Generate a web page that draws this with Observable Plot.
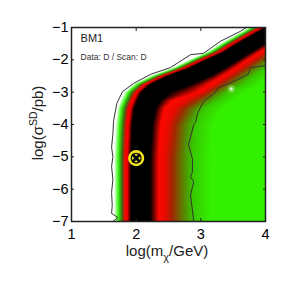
<!DOCTYPE html>
<html><head><meta charset="utf-8">
<script src="https://cdn.jsdelivr.net/npm/d3@7"></script>
<script src="https://cdn.jsdelivr.net/npm/@observablehq/plot@0.6"></script>
<style>html,body{margin:0;background:#fff}svg{display:block}</style>
</head><body><div id="c"></div>
<script>
const xTicks=[1,2,3,4];
const yTicks=[-1,-2,-3,-4,-5,-6,-7];
const rowY=[-7,-5,-4,-3.5,-3.25,-3,-2.75,-2.5,-2.25,-2,-1.75,-1.5,-1.25,-1,-0.75,-0.5,-0.25];
// x position (log m) of each colour level along every row of rowY
const band0=[1.66,1.66,1.68,1.71,1.76,1.82,1.96,2.22,2.56,2.82,3.10,3.30,3.52,3.74,3.98,4.26,4.54];
const band1=[1.72,1.72,1.74,1.77,1.82,1.88,2.02,2.28,2.62,2.88,3.16,3.36,3.58,3.80,4.04,4.32,4.60];
const band2=[1.78,1.78,1.80,1.83,1.88,1.94,2.08,2.34,2.68,2.94,3.22,3.42,3.64,3.86,4.10,4.38,4.66];
const band3=[1.83,1.83,1.85,1.88,1.93,1.99,2.13,2.39,2.73,2.99,3.27,3.47,3.69,3.91,4.15,4.43,4.71];
const band4=[1.86,1.86,1.88,1.91,1.96,2.02,2.16,2.42,2.76,3.02,3.30,3.50,3.72,3.94,4.18,4.46,4.74];
const band5=[1.92,1.92,1.94,1.97,2.02,2.08,2.22,2.48,2.82,3.08,3.36,3.56,3.78,4.00,4.24,4.52,4.80];
const band6=[2.22,2.22,2.25,2.30,2.38,2.53,2.87,3.15,3.37,3.58,3.78,4.00,4.20,4.40,4.60,4.80,5.00];
const band7=[2.35,2.35,2.38,2.44,2.56,2.95,3.13,3.34,3.54,3.72,3.92,4.12,4.31,4.51,4.70,4.90,5.08];
const band8=[2.45,2.45,2.50,2.61,2.78,3.04,3.23,3.43,3.61,3.80,4.00,4.19,4.37,4.56,4.76,4.94,5.13];
const band9=[2.56,2.56,2.61,2.73,2.93,3.13,3.32,3.52,3.71,3.89,4.09,4.28,4.46,4.65,4.85,5.04,5.22];
const band10=[2.73,2.72,2.76,2.90,3.09,3.27,3.49,3.66,3.85,4.03,4.23,4.43,4.63,4.85,5.07,5.28,5.50];
const band11=[2.88,2.87,2.91,3.05,3.25,3.43,3.65,3.82,4.00,4.19,4.39,4.58,4.79,5.00,5.22,5.44,5.65];
const band12=[3.16,3.15,3.19,3.33,3.52,3.70,3.92,4.09,4.28,4.46,4.66,4.86,5.06,5.28,5.50,5.71,5.93];
const levelColors=["#ffffff","#38ff10","#3c6a10","#f80000","#ff0000","#000000","#000000","#ff0800","#e80a00","#a02800","#5a8200","#38c800","#33f000"];
// outer and inner contours
const outerX=[3.70,3.61,3.30,3.04,2.84,2.53,2.22,1.96,1.79,1.70,1.65,1.64,1.62,1.64,1.62,1.64,1.62,1.63,1.62,1.72,1.64];
const outerY=[-1.0,-1.12,-1.43,-1.80,-1.84,-2.24,-2.45,-2.73,-2.98,-3.35,-3.9,-4.3,-4.7,-5.0,-5.3,-5.7,-6.1,-6.5,-6.75,-6.88,-7];
const innerX=[4.0,3.77,3.73,3.57,3.28,3.19,3.04,2.95,2.92,2.89,2.81,2.87,2.87,2.84,2.89,2.84,2.87,2.89];
const innerY=[-2.18,-2.24,-2.45,-2.61,-2.86,-3.07,-3.29,-3.66,-3.92,-4.0,-4.63,-5.06,-5.46,-5.62,-5.77,-6.18,-6.65,-7];
const bestX=[2.0], bestY=[-5.04];
const spotX=[3.47], spotY=[-2.9];

const bands=[band0,band1,band2,band3,band4,band5,band6,band7,band8,band9,band10,band11,band12];
const levels=d3.range(bands.length);
const field=(x,y)=>{
  const xs=bands.map(b=>d3.scaleLinear(rowY,b)(y));
  if(x<=xs[0])return 0;
  if(x>=xs[xs.length-1])return levels[levels.length-1];
  return d3.scaleLinear(xs,levels)(x);
};
const FONT="'Liberation Sans',Arial,sans-serif";
const fmt=d=>String(d).replace("-","\u2212");
function labelMark(){
  const g=d3.create("svg:g").attr("font-family",FONT).attr("font-size",15).attr("fill","#222");
  const xl=g.append("text").attr("x",167).attr("y",256).attr("text-anchor","middle");
  xl.append("tspan").text("log(m");
  xl.append("tspan").attr("font-size",11).attr("dy",5).text("χ");
  xl.append("tspan").attr("dy",-5).text("/GeV)");
  const yl=g.append("text").attr("transform","translate(43,123) rotate(-90)").attr("text-anchor","middle");
  yl.append("tspan").text("log(σ");
  yl.append("tspan").attr("font-size",10.5).attr("dy",-6).text("SD");
  yl.append("tspan").attr("dy",6).text("/pb)");
  return g.node();
}
const plot=Plot.plot({
  width:291,height:291,
  marginLeft:71,marginRight:26,marginTop:27,marginBottom:70,
  style:{background:"#fff",fontFamily:FONT,overflow:"visible"},
  x:{domain:[1,4]},
  y:{domain:[-7,-1]},
  color:{type:"linear",domain:levels,range:levelColors,interpolate:"rgb"},
  marks:[
    Plot.raster({fill:field,x1:1,x2:4,y1:-7,y2:-1,pixelSize:1}),
    Plot.dot(d3.range(spotX.length),{x:i=>spotX[i],y:i=>spotY[i],r:4,fill:"#a8ff90",fillOpacity:0.35}),
    Plot.dot(d3.range(spotX.length),{x:i=>spotX[i],y:i=>spotY[i],r:1.6,fill:"#e8ffe0",fillOpacity:0.9}),
    Plot.line(d3.range(outerX.length),{x:i=>outerX[i],y:i=>outerY[i],stroke:"#333",strokeWidth:1,curve:"linear"}),
    Plot.line(d3.range(innerX.length),{x:i=>innerX[i],y:i=>innerY[i],stroke:"#333",strokeWidth:1,curve:"linear"}),
    Plot.dot(bestX.map((d,i)=>i),{x:i=>bestX[i],y:i=>bestY[i],r:6.8,fill:"#111",stroke:"#f4e61c",strokeWidth:2.6}),
    Plot.dot(bestX.map((d,i)=>i),{x:i=>bestX[i],y:i=>bestY[i],r:4.2,fill:"#e8e020"}),
    Plot.dot(bestX.map((d,i)=>i),{x:i=>bestX[i],y:i=>bestY[i],r:3.6,symbol:"times",stroke:"#000",strokeWidth:2.6}),
    Plot.text(["BM1"],{x:[1.14],y:[-1.34],text:d=>d,textAnchor:"start",fontSize:11,fill:"#222"}),
    Plot.text(["Data: D / Scan: D"],{x:[1.14],y:[-1.93],text:d=>d,textAnchor:"start",fontSize:8.5,fill:"#333"}),
    Plot.frame({stroke:"#222",strokeWidth:1.5}),
    Plot.axisX({anchor:"bottom",ticks:xTicks,tickSize:-3,tickPadding:10,fontSize:14.5,label:null,stroke:"#222",tickFormat:fmt}),
    Plot.axisX({anchor:"top",ticks:xTicks,tickSize:-3,tickFormat:()=>"",label:null,stroke:"#222"}),
    Plot.axisY({anchor:"left",ticks:yTicks,tickSize:-3,tickPadding:6,fontSize:14.5,label:null,stroke:"#222",tickFormat:fmt}),
    Plot.axisY({anchor:"right",ticks:yTicks,tickSize:-3,tickFormat:()=>"",label:null,stroke:"#222"}),
    labelMark
  ]
});
document.getElementById("c").append(plot);
</script></body></html>
